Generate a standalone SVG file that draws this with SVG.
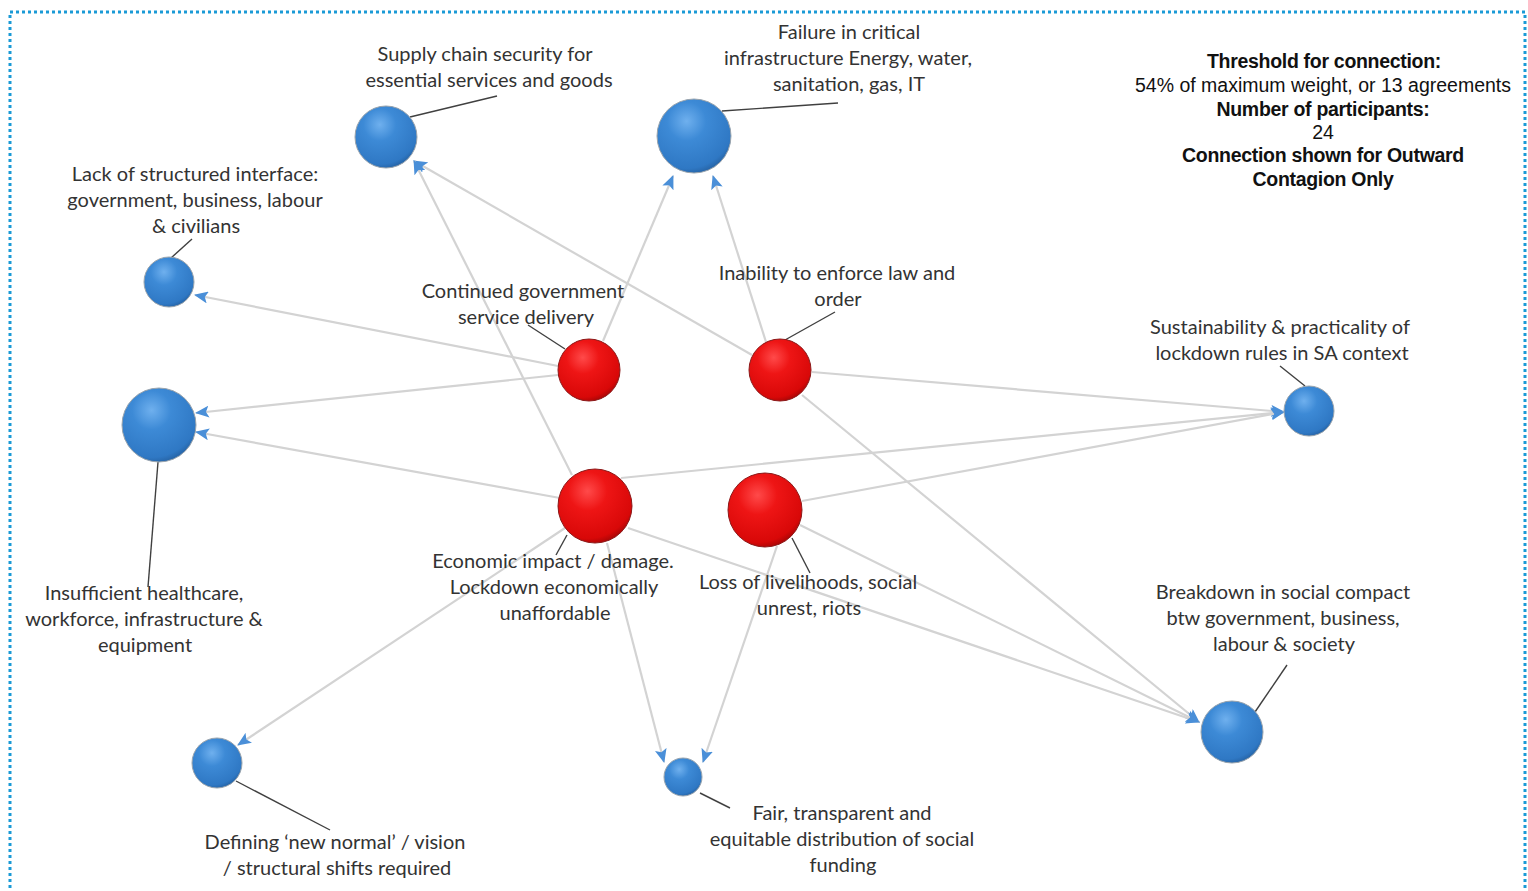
<svg xmlns="http://www.w3.org/2000/svg" width="1528" height="891" viewBox="0 0 1528 891">
<defs>
<radialGradient id="gb" cx="0.4" cy="0.3" r="0.75">
<stop offset="0" stop-color="#6fb0ee"/>
<stop offset="0.35" stop-color="#3d8ad6"/>
<stop offset="0.85" stop-color="#2f78c4"/>
<stop offset="1" stop-color="#235d9c"/>
</radialGradient>
<radialGradient id="gr" cx="0.4" cy="0.3" r="0.75">
<stop offset="0" stop-color="#ff4a4a"/>
<stop offset="0.35" stop-color="#ee1515"/>
<stop offset="0.85" stop-color="#d80808"/>
<stop offset="1" stop-color="#9c0505"/>
</radialGradient>
<marker id="ah" markerWidth="14" markerHeight="12" refX="13" refY="6" orient="auto" markerUnits="userSpaceOnUse">
<path d="M0,0 L14,6 L0,12 L3,6 Z" fill="#4a8fd8"/>
</marker>
<style>
.e{stroke:#d3d3d3;stroke-width:2.2;fill:none;marker-end:url(#ah)}
.l{stroke:#404040;stroke-width:1.4;fill:none}
.b{fill:url(#gb);stroke:#9aa4ad;stroke-width:1}
.r{fill:url(#gr);stroke:#8c1a1a;stroke-width:1}
.t{font-family:Lato,"Open Sans","Liberation Sans",sans-serif;font-size:20px;fill:#333;text-anchor:middle}
.k{font-family:"Liberation Sans",Arial,sans-serif;font-size:19.5px;fill:#111;text-anchor:middle}
.kb{font-weight:bold;letter-spacing:-0.3px}
</style>
</defs>
<rect x="0" y="0" width="1528" height="891" fill="#fff"/>
<rect x="10" y="12" width="1515" height="900" fill="none" stroke="#1a9ad6" stroke-width="3" stroke-dasharray="3 3"/>

<g id="connectors">
<line class="e" x1="603" y1="341" x2="673" y2="176"/>
<line class="e" x1="766" y1="342" x2="713" y2="176"/>
<line class="e" x1="558" y1="366" x2="195" y2="295"/>
<line class="e" x1="558" y1="375" x2="196" y2="413"/>
<line class="e" x1="752" y1="355" x2="414" y2="161"/>
<line class="e" x1="572" y1="475" x2="414" y2="161"/>
<line class="e" x1="560" y1="498" x2="196" y2="432"/>
<line class="e" x1="812" y1="372" x2="1284" y2="412"/>
<line class="e" x1="621" y1="478" x2="1284" y2="412"/>
<line class="e" x1="802" y1="501" x2="1284" y2="412"/>
<line class="e" x1="802" y1="395" x2="1199" y2="722"/>
<line class="e" x1="628" y1="528" x2="1199" y2="722"/>
<line class="e" x1="800" y1="525" x2="1199" y2="722"/>
<line class="e" x1="565" y1="528" x2="238" y2="745"/>
<line class="e" x1="607" y1="543" x2="664" y2="762"/>
<line class="e" x1="777" y1="546" x2="703" y2="762"/>
</g>

<g id="leaders">
<line class="l" x1="410" y1="117" x2="497" y2="96"/>
<line class="l" x1="722" y1="111" x2="838" y2="103"/>
<line class="l" x1="171" y1="258" x2="192" y2="239"/>
<line class="l" x1="565" y1="349" x2="528" y2="325"/>
<line class="l" x1="785" y1="340" x2="835" y2="312"/>
<line class="l" x1="1305" y1="386" x2="1280" y2="366"/>
<line class="l" x1="158" y1="462" x2="148" y2="587"/>
<line class="l" x1="567" y1="535" x2="556" y2="555"/>
<line class="l" x1="792" y1="538" x2="810" y2="573"/>
<line class="l" x1="1255" y1="712" x2="1287" y2="665"/>
<line class="l" x1="236" y1="781" x2="330" y2="830"/>
<line class="l" x1="700" y1="793" x2="730" y2="808"/>
</g>

<g id="n-supply"><circle class="b" cx="386" cy="137" r="31"/>
<text class="t"><tspan x="485" y="61">Supply chain security for</tspan><tspan x="489" y="87">essential services and goods</tspan></text></g>

<g id="n-failure"><circle class="b" cx="694" cy="136" r="37"/>
<text class="t"><tspan x="849" y="39">Failure in critical</tspan><tspan x="848" y="65">infrastructure Energy, water,</tspan><tspan x="849" y="91">sanitation, gas, IT</tspan></text></g>

<g id="n-lack"><circle class="b" cx="169" cy="282" r="25"/>
<text class="t"><tspan x="195" y="181">Lack of structured interface:</tspan><tspan x="195" y="207">government, business, labour</tspan><tspan x="196" y="233">&amp; civilians</tspan></text></g>

<g id="n-health"><circle class="b" cx="159" cy="425" r="37"/>
<text class="t"><tspan x="144" y="600">Insufficient healthcare,</tspan><tspan x="144" y="626">workforce, infrastructure &amp;</tspan><tspan x="145" y="652">equipment</tspan></text></g>

<g id="n-sustain"><circle class="b" cx="1309" cy="411" r="25"/>
<text class="t"><tspan x="1280" y="334">Sustainability &amp; practicality of</tspan><tspan x="1282" y="360">lockdown rules in SA context</tspan></text></g>

<g id="n-breakdown"><circle class="b" cx="1232" cy="732" r="31"/>
<text class="t"><tspan x="1283" y="599">Breakdown in social compact</tspan><tspan x="1283" y="625">btw government, business,</tspan><tspan x="1284" y="651">labour &amp; society</tspan></text></g>

<g id="n-defining"><circle class="b" cx="217" cy="763" r="25"/>
<text class="t"><tspan x="335" y="849">Defining ‘new normal’ / vision</tspan><tspan x="337" y="875">/ structural shifts required</tspan></text></g>

<g id="n-fair"><circle class="b" cx="683" cy="777" r="19"/>
<text class="t"><tspan x="842" y="820">Fair, transparent and</tspan><tspan x="842" y="846">equitable distribution of social</tspan><tspan x="843" y="872">funding</tspan></text></g>

<g id="n-continued"><circle class="r" cx="589" cy="370" r="31"/>
<text class="t"><tspan x="523" y="298">Continued government</tspan><tspan x="526" y="324">service delivery</tspan></text></g>

<g id="n-inability"><circle class="r" cx="780" cy="370" r="31"/>
<text class="t"><tspan x="837" y="280">Inability to enforce law and</tspan><tspan x="838" y="306">order</tspan></text></g>

<g id="n-economic"><circle class="r" cx="595" cy="506" r="37"/>
<text class="t"><tspan x="553" y="568">Economic impact / damage.</tspan><tspan x="554" y="594">Lockdown economically</tspan><tspan x="555" y="620">unaffordable</tspan></text></g>

<g id="n-loss"><circle class="r" cx="765" cy="510" r="37"/>
<text class="t"><tspan x="808" y="589">Loss of livelihoods, social</tspan><tspan x="809" y="615">unrest, riots</tspan></text></g>

<g id="legend">
<text class="k"><tspan class="kb" x="1324" y="68">Threshold for connection:</tspan><tspan x="1323" y="92">54% of maximum weight, or 13 agreements</tspan><tspan class="kb" x="1323" y="116">Number of participants:</tspan><tspan x="1323" y="139">24</tspan><tspan class="kb" x="1323" y="162">Connection shown for Outward</tspan><tspan class="kb" x="1323" y="186">Contagion Only</tspan></text>
</g>
</svg>
